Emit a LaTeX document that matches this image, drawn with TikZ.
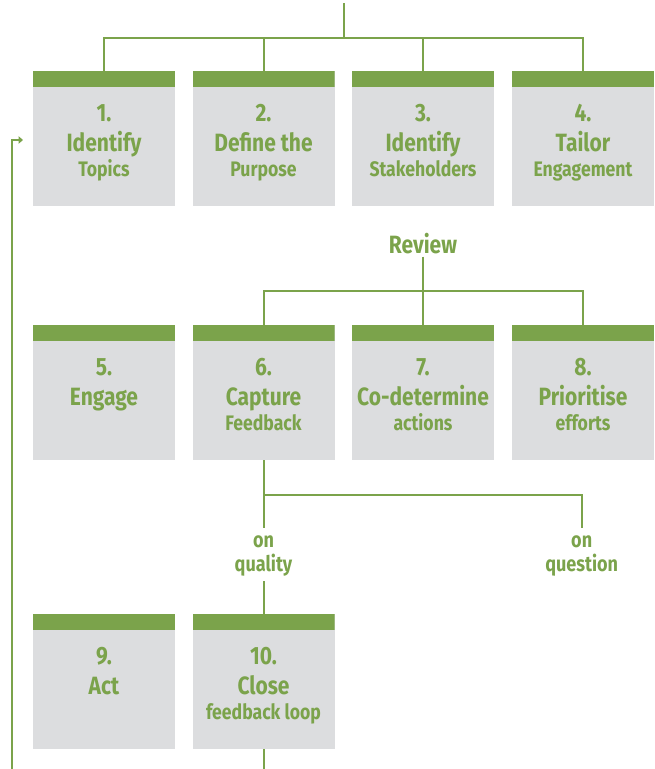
\documentclass[tikz,border=0pt]{standalone}
\usepackage{fontspec}
\setmainfont{Fira Sans}[FakeStretch=0.84]
\usetikzlibrary{arrows.meta}
\definecolor{lgreen}{HTML}{7BA34B}
\definecolor{lgray}{HTML}{DCDDDF}
\tikzset{
  box/.style={fill=lgray, minimum width=142pt, minimum height=135pt, inner sep=0pt, outer sep=0pt,
    path picture={\fill[lgreen] (path picture bounding box.north west) rectangle ([yshift=-16pt]path picture bounding box.north east);}},
  conn/.style={draw=lgreen, line width=2pt},
  num/.style={text=lgreen, font=\bfseries\fontsize{25}{25}\selectfont, anchor=base, inner sep=0pt},
  ttl/.style={text=lgreen, font=\bfseries\fontsize{25}{25}\selectfont, anchor=base, inner sep=0pt},
  sub/.style={text=lgreen, font=\bfseries\fontsize{21}{21}\selectfont, anchor=base, inner sep=0pt},
  lbl/.style={text=lgreen, font=\bfseries\fontsize{21.5}{21.5}\selectfont, anchor=base, inner sep=0pt},
}
\begin{document}
\begin{tikzpicture}[x=1pt,y=-1pt]
\useasboundingbox (0,0) rectangle (655,769);
% boxes: row tops 71, 325, 614
\foreach \n/\x/\y in {b1/104/71, b2/263.5/71, b3/423/71, b4/583/71,
                      b5/104/325, b6/263.5/325, b7/423/325, b8/583/325,
                      b9/104/614, b10/263.5/614}{
  \node[box, anchor=north] (\n) at (\x,\y) {};
}
% texts row 1
\node[num] (n1) at (104,121.7) {1.};
\node[ttl] (t1) at (104,151.7) {Identify};
\node[sub] (s1) at (104,176) {Topics};
\node[num] (n2) at (263.5,121.7) {2.};
\node[ttl] (t2) at (263.5,151.7) {Define the};
\node[sub] (s2) at (263.5,176) {Purpose};
\node[num] (n3) at (423,121.7) {3.};
\node[ttl] (t3) at (423,151.7) {Identify};
\node[sub] (s3) at (423,176) {Stakeholders};
\node[num] (n4) at (583,121.7) {4.};
\node[ttl] (t4) at (583,151.7) {Tailor};
\node[sub] (s4) at (583,176) {Engagement};
% row 2
\node[num] (n5) at (104,375.7) {5.};
\node[ttl] (t5) at (104,405.7) {Engage};
\node[num] (n6) at (263.5,375.7) {6.};
\node[ttl] (t6) at (263.5,405.7) {Capture};
\node[sub] (s6) at (263.5,430) {Feedback};
\node[num] (n7) at (423,375.7) {7.};
\node[ttl] (t7) at (423,405.7) {Co-determine};
\node[sub] (s7) at (423,430) {actions};
\node[num] (n8) at (583,375.7) {8.};
\node[ttl] (t8) at (583,405.7) {Prioritise};
\node[sub] (s8) at (583,430) {efforts};
% row 3
\node[num] (n9) at (104,664.7) {9.};
\node[ttl] (t9) at (104,694.7) {Act};
\node[num] (n10) at (263.5,664.7) {10.};
\node[ttl] (t10) at (263.5,694.7) {Close};
\node[sub] (s10) at (263.5,719) {feedback loop};

% top tree
\coordinate (top0) at (343.7,3);
\coordinate (top1) at (343.7,37.7);
\draw[conn] (top0) -- (top1);
\draw[conn] (b1.north) |- (top1) -| (b4.north);
\draw[conn] (b2.north) -- (b2.north |- top1);
\draw[conn] (b3.north) -- (b3.north |- top1);

% review tree
\node[ttl] (rev) at (423,253.3) {Review};
\coordinate (rv) at (423,256.7);
\coordinate (rh) at (423,291);
\draw[conn] (rv) -- (b7.north);
\draw[conn] (b6.north) |- (rh) -| (b8.north);

% feedback split
\node[lbl] (oq1) at (263.5,547.3) {on};
\node[lbl] (oq2) at (263.5,571.3) {quality};
\node[lbl] (on1) at (581.7,547.3) {on};
\node[lbl] (on2) at (581.7,571.3) {question};
\coordinate (qa) at (263.5,528);
\coordinate (qb) at (263.5,581);
\coordinate (qc) at (581.7,528);
\coordinate (fh) at (263.5,495);
\draw[conn] (b6.south) -- (qa);
\draw[conn] (fh) -| (qc);
\draw[conn] (qb) -- (b10.north);

% bottom and loop
\coordinate (bot) at (263.5,769);
\draw[conn] (b10.south) -- (bot);
\coordinate (L0) at (12,769);
\coordinate (L1) at (12,140);
\coordinate (L2) at (23,140);
\draw[conn, -{Triangle[length=4.5pt,width=7.5pt]}] (L0) -- (L1) -- (L2);
\end{tikzpicture}
\end{document}
